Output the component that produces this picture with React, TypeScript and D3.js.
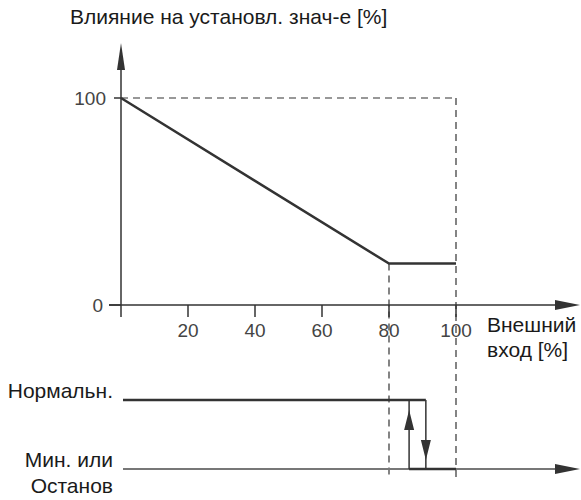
import React from "react";
import * as d3 from "d3";

const xTicks = [20, 40, 60, 80, 100];
const yTicks = [0, 100];
const curveX = [0, 80, 100];
const curveY = [100, 20, 20];
const switchOn = 86; // rising switch point
const switchOff = 91; // falling switch point
const limitX = [80, 100];
const titleText = "Влияние на установл. знач-е [%]";
const xLabel = ["Внешний", "вход [%]"];
const stateNormal = "Нормальн.";
const stateMin = ["Мин. или", "Останов"];

const W = 581, H = 500;
const FONT = "'Liberation Sans', Arial, sans-serif";
const LF = 21;
const TF = 19;

export default function App() {
  const x = d3.scaleLinear().domain([0, 100]).range([121, 456]);
  const y = d3.scaleLinear().domain([0, 100]).range([305, 98]);
  const yNormal = 400;
  const yMin = 469;
  const dark = "#333";
  const line = d3.line<[number, number]>().x((d) => x(d[0])).y((d) => y(d[1]));
  const pts: [number, number][] = curveX.map((v, i) => [v, curveY[i]]);
  const tri = (pts: [number, number][]) => "M" + pts.map((p) => p.join(",")).join("L") + "Z";
  return (
    <svg width={W} height={H} style={{ position: "absolute", left: 0, top: 0 }} fontFamily={FONT}>
      <rect width={W} height={H} fill="#fff" />
      {/* title */}
      <text x={70} y={24} fontSize={LF} fill="#1a1a1a">{titleText}</text>
      {/* dashed guides */}
      <line x1={x(0)} x2={x(100)} y1={y(100)} y2={y(100)} stroke="#333" strokeWidth={1.2} strokeDasharray="7,5" />
      <line x1={x(limitX[1])} x2={x(limitX[1])} y1={y(100)} y2={477} stroke="#333" strokeWidth={1.2} strokeDasharray="7,5" />
      <line x1={x(limitX[0])} x2={x(limitX[0])} y1={y(curveY[1])} y2={477} stroke="#333" strokeWidth={1.2} strokeDasharray="7,5" />
      {/* y axis */}
      <line x1={x(0)} x2={x(0)} y1={317} y2={68} stroke={dark} strokeWidth={1.5} />
      <path d={tri([[x(0), 43], [x(0) - 4, 70], [x(0) + 4, 70]])} fill={dark} />
      {/* x axis */}
      <line x1={109} x2={557} y1={y(0)} y2={y(0)} stroke={dark} strokeWidth={1.5} />
      <path d={tri([[580, y(0)], [555, y(0) - 5], [555, y(0) + 5]])} fill={dark} />
      {xTicks.map((t) => (
        <g key={t}>
          <line x1={x(t)} x2={x(t)} y1={y(0)} y2={317} stroke={dark} strokeWidth={1.5} />
          <text x={x(t)} y={337} textAnchor="middle" fontSize={TF} fill="#444">{t}</text>
        </g>
      ))}
      {yTicks.map((t) => (
        <g key={t}>
          <line x1={t === 0 ? 109 : 114} x2={x(0)} y1={y(t)} y2={y(t)} stroke={dark} strokeWidth={1.5} />
          <text x={t === 0 ? 103 : 106} y={y(t) + 7} textAnchor="end" fontSize={TF} fill="#444">{t}</text>
        </g>
      ))}
      <text x={487} y={332} fontSize={LF} fill="#1a1a1a">{xLabel[0]}</text>
      <text x={487} y={357} fontSize={LF} fill="#1a1a1a">{xLabel[1]}</text>
      {/* curve */}
      <path d={line(pts) || ""} fill="none" stroke={dark} strokeWidth={2.5} />
      {/* switching states */}
      <text x={113} y={398} textAnchor="end" fontSize={LF} fill="#1a1a1a">{stateNormal}</text>
      <text x={113} y={467} textAnchor="end" fontSize={LF} fill="#1a1a1a">{stateMin[0]}</text>
      <text x={113} y={493} textAnchor="end" fontSize={LF} fill="#1a1a1a">{stateMin[1]}</text>
      <line x1={123} x2={557} y1={yMin} y2={yMin} stroke="#777" strokeWidth={2} />
      <path d={tri([[580, yMin], [555, yMin - 5], [555, yMin + 5]])} fill={dark} />
      <line x1={123} x2={x(switchOff)} y1={yNormal} y2={yNormal} stroke={dark} strokeWidth={2.5} />
      <line x1={x(switchOn)} x2={x(100)} y1={yMin} y2={yMin} stroke={dark} strokeWidth={2.5} />
      <line x1={x(switchOn)} x2={x(switchOn)} y1={yMin} y2={yNormal} stroke={dark} strokeWidth={1.5} />
      <line x1={x(switchOff)} x2={x(switchOff)} y1={yNormal} y2={yMin} stroke={dark} strokeWidth={1.5} />
      <path d={tri([[x(switchOn), 410], [x(switchOn) - 5, 430], [x(switchOn) + 5, 430]])} fill={dark} />
      <path d={tri([[x(switchOff), 460], [x(switchOff) - 5, 440], [x(switchOff) + 5, 440]])} fill={dark} />
    </svg>
  );
}
